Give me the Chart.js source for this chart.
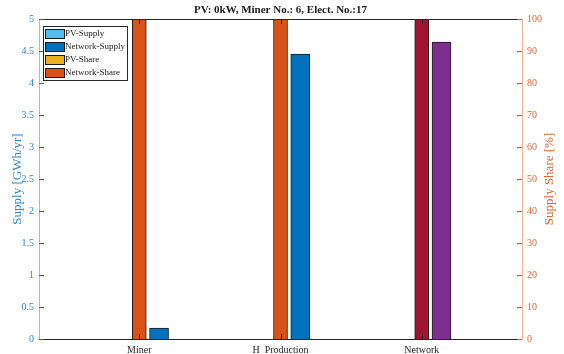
<!DOCTYPE html>
<html>
<head>
<meta charset="utf-8">
<script src="https://cdn.jsdelivr.net/npm/chart.js@4.4.1/dist/chart.umd.min.js"></script>
<style>
  html, body { margin: 0; padding: 0; background: #fff; }
  #wrap { width: 564px; height: 354px; }
</style>
</head>
<body>
<div id="wrap"><canvas id="supplyChart" width="564" height="354"></canvas></div>
<script>
const chartTitle = 'PV: 0kW, Miner No.: 6, Elect. No.:17';
const categories = ['Miner', 'H  Production', 'Network'];
const pvSupply = [0, 0, 0];
const networkSupply = [0.17, 4.45, 4.64];
const pvShare = [0, 0, 0];
const networkShare = [100, 100, 100];
const supplyTicks = [0, 0.5, 1, 1.5, 2, 2.5, 3, 3.5, 4, 4.5, 5];
const shareTicks = [0, 10, 20, 30, 40, 50, 60, 70, 80, 90, 100];

const serif = '"Liberation Serif", "Times New Roman", serif';
const leftColor = '#2f86c9';
const rightColor = '#dd6632';

// bars sit at the category (share) or just right of it (supply)
const supplyOffset = 0.14;
function toPoints(values, offset) {
    return values.map((v, i) => ({ x: i + 1 + offset, y: v }));
}

const legendItems = [
    { label: 'PV-Supply', color: '#4DBEEE' },
    { label: 'Network-Supply', color: '#0072BD' },
    { label: 'PV-Share', color: '#EDB120' },
    { label: 'Network-Share', color: '#D95319' }
];

// MATLAB-ish decorations: inward ticks, top box line, title, right label, legend box
const matlabLook = {
    id: 'matlabLook',
    afterDraw(chart) {
        const ctx = chart.ctx;
        const area = chart.chartArea;
        const { x, y, y1 } = chart.scales;
        ctx.save();
        ctx.lineWidth = 1;

        // top border
        ctx.strokeStyle = '#262626';
        ctx.beginPath();
        ctx.moveTo(area.left, area.top + 0.5);
        ctx.lineTo(area.right, area.top + 0.5);
        ctx.stroke();

        // x ticks, top and bottom, pointing inward
        x.ticks.forEach(t => {
            const px = Math.round(x.getPixelForValue(t.value)) + 0.5;
            ctx.beginPath();
            ctx.moveTo(px, area.bottom);
            ctx.lineTo(px, area.bottom - 5);
            ctx.moveTo(px, area.top);
            ctx.lineTo(px, area.top + 5);
            ctx.stroke();
        });

        ctx.strokeStyle = '#0072BD';
        y.ticks.forEach(t => {
            const py = Math.round(y.getPixelForValue(t.value)) + 0.5;
            ctx.beginPath();
            ctx.moveTo(area.left, py);
            ctx.lineTo(area.left + 5, py);
            ctx.stroke();
        });
        ctx.strokeStyle = '#D95319';
        y1.ticks.forEach(t => {
            const py = Math.round(y1.getPixelForValue(t.value)) + 0.5;
            ctx.beginPath();
            ctx.moveTo(area.right, py);
            ctx.lineTo(area.right - 5, py);
            ctx.stroke();
        });

        // title
        ctx.fillStyle = '#1a1a1a';
        ctx.font = 'bold 11px ' + serif;
        ctx.textAlign = 'center';
        ctx.textBaseline = 'middle';
        ctx.fillText(chartTitle, (area.left + area.right) / 2, 10);

        // right axis title, reading bottom to top
        ctx.save();
        ctx.translate(550, (area.top + area.bottom) / 2);
        ctx.rotate(-Math.PI / 2);
        ctx.fillStyle = rightColor;
        ctx.font = '13px ' + serif;
        ctx.fillText('Supply Share [%]', 0, 0);
        ctx.restore();

        // legend
        const lx = 43, ly = 26, lw = 84, lh = 54;
        ctx.fillStyle = '#fff';
        ctx.fillRect(lx, ly, lw, lh);
        ctx.strokeStyle = '#262626';
        ctx.strokeRect(lx + 0.5, ly + 0.5, lw, lh);
        ctx.font = '9px ' + serif;
        ctx.textAlign = 'left';
        legendItems.forEach((item, i) => {
            const ry = ly + 3 + i * 13;
            ctx.fillStyle = item.color;
            ctx.fillRect(lx + 2, ry, 19, 9);
            ctx.strokeStyle = '#1a1a1a';
            ctx.strokeRect(lx + 2.5, ry + 0.5, 19, 9);
            ctx.fillStyle = '#1a1a1a';
            ctx.fillText(item.label, lx + 22, ry + 5);
        });
        ctx.restore();
    }
};

const ctx = document.getElementById('supplyChart').getContext('2d');
new Chart(ctx, {
    type: 'bar',
    data: {
        datasets: [
            {
                label: 'PV-Share',
                data: toPoints(pvShare, -supplyOffset),
                yAxisID: 'y1',
                backgroundColor: '#EDB120',
                borderWidth: 0,
                inflateAmount: 0,
                barThickness: 14,
                grouped: false
            },
            {
                label: 'Network-Share',
                data: toPoints(networkShare, 0),
                yAxisID: 'y1',
                backgroundColor: ['#D95319', '#D95319', '#A2142F'],
                borderColor: '#1a1a1a',
                borderWidth: 1,
                barThickness: 14,
                grouped: false
            },
            {
                label: 'PV-Supply',
                data: toPoints(pvSupply, 0),
                yAxisID: 'y',
                backgroundColor: '#4DBEEE',
                borderWidth: 0,
                inflateAmount: 0,
                barThickness: 19,
                grouped: false
            },
            {
                label: 'Network-Supply',
                data: toPoints(networkSupply, supplyOffset),
                yAxisID: 'y',
                backgroundColor: ['#0072BD', '#0072BD', '#7E2F8E'],
                borderColor: '#1a1a1a',
                borderWidth: 1,
                barThickness: 19,
                grouped: false
            }
        ]
    },
    options: {
        responsive: false,
        animation: false,
        layout: { padding: { top: 19, left: 0, right: 0, bottom: 0 } },
        plugins: {
            legend: { display: false },
            title: { display: false },
            tooltip: { enabled: false }
        },
        scales: {
            x: {
                type: 'linear',
                offset: false,
                min: 0.29,
                max: 3.71,
                grid: { display: false, drawTicks: false },
                border: { display: true, color: '#262626', width: 1 },
                afterBuildTicks: scale => {
                    scale.ticks = categories.map((c, i) => ({ value: i + 1 }));
                },
                afterFit: scale => { scale.height = 15; },
                ticks: {
                    autoSkip: false,
                    maxRotation: 0,
                    padding: 5,
                    color: '#262626',
                    font: { family: serif, size: 10 },
                    callback: v => categories[v - 1]
                }
            },
            y: {
                position: 'left',
                min: 0,
                max: 5,
                grid: { display: false, drawTicks: false },
                border: { display: true, color: '#8ec2ea', width: 1 },
                afterBuildTicks: scale => {
                    scale.ticks = supplyTicks.map(v => ({ value: v }));
                },
                afterFit: scale => { scale.width = 39; },
                title: {
                    display: true,
                    text: 'Supply [GWh/yr]',
                    color: leftColor,
                    font: { family: serif, size: 13 },
                    padding: { top: 10, bottom: 0 }
                },
                ticks: {
                    padding: 5,
                    color: leftColor,
                    font: { family: serif, size: 10 },
                    callback: v => String(v)
                }
            },
            y1: {
                position: 'right',
                min: 0,
                max: 100,
                grid: { display: false, drawTicks: false },
                border: { display: true, color: '#f2b392', width: 1 },
                afterBuildTicks: scale => {
                    scale.ticks = shareTicks.map(v => ({ value: v }));
                },
                afterFit: scale => { scale.width = 42; },
                ticks: {
                    padding: 5,
                    color: rightColor,
                    font: { family: serif, size: 10 },
                    callback: v => String(v)
                }
            }
        }
    },
    plugins: [matlabLook]
});
</script>
</body>
</html>
